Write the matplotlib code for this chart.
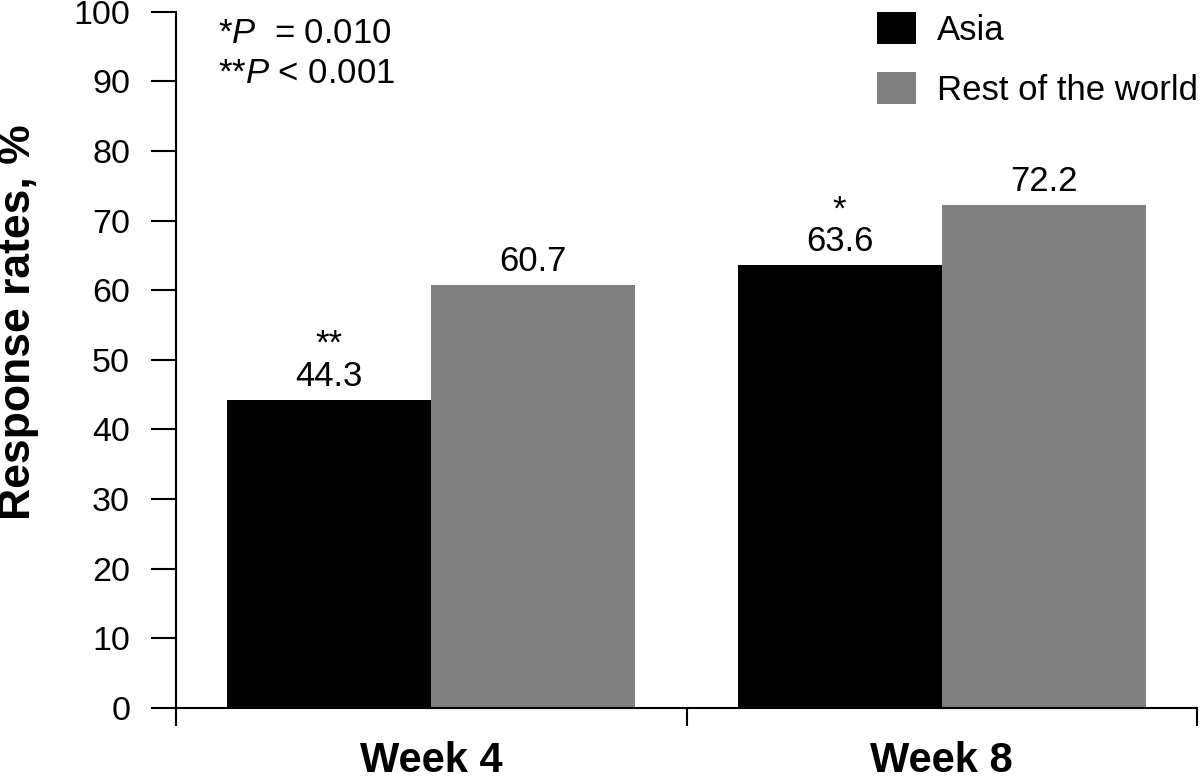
import matplotlib.pyplot as plt
import numpy as np

plt.rcParams['font.family'] = ['Liberation Sans', 'DejaVu Sans']
plt.rcParams['mathtext.fontset'] = 'custom'
plt.rcParams['mathtext.rm'] = 'Liberation Sans'
plt.rcParams['mathtext.it'] = 'Liberation Sans:italic'

# Data
weeks = ['Week 4', 'Week 8']
asia = [44.3, 63.6]
rest_of_world = [60.7, 72.2]
asia_marks = ['**', '*']
p_notes = [r'*$P$  = 0.010', r'**$P$ < 0.001']

fig = plt.figure(figsize=(12, 7.79), dpi=100)
ax = fig.add_axes([176 / 1200, 1 - 708 / 779, 1021 / 1200, 696.3 / 779])

x = np.arange(len(weeks))
width = 0.4
b1 = ax.bar(x - width / 2, asia, width, color='black', label='Asia')
b2 = ax.bar(x + width / 2, rest_of_world, width, color='#808080', label='Rest of the world')

# value labels
for rect, val, mark in zip(b1, asia, asia_marks):
    cx = rect.get_x() + rect.get_width() / 2
    ax.annotate(f'{val:.1f}', (cx, val), xytext=(0, 10), textcoords='offset points',
                ha='center', va='baseline', fontsize=25)
    ax.annotate(mark, (cx, val), xytext=(0, 33), textcoords='offset points',
                ha='center', va='baseline', fontsize=25)
for rect, val in zip(b2, rest_of_world):
    cx = rect.get_x() + rect.get_width() / 2
    ax.annotate(f'{val:.1f}', (cx, val), xytext=(0, 10), textcoords='offset points',
                ha='center', va='baseline', fontsize=25)

ax.set_xlim(-0.5, 1.5)
ax.set_ylim(0, 100)
ax.set_yticks(range(0, 101, 10))
ax.set_xticks(x)
ax.set_xticklabels(weeks, fontsize=30, fontweight='bold')
ax.set_xticks([-0.5, 0.5, 1.5], minor=True)
ax.tick_params(axis='x', which='major', length=0, pad=24)
ax.tick_params(axis='x', which='minor', length=13, width=1.5, direction='out')
ax.tick_params(axis='y', length=18, width=1.5, pad=15, labelsize=24.5)

for s in ['top', 'right']:
    ax.spines[s].set_visible(False)
for s in ['left', 'bottom']:
    ax.spines[s].set_linewidth(1.5)

fig.text(19 / 1200, 1 - 322.5 / 779, 'Response rates, %', rotation=90,
         ha='center', va='center', fontsize=32, fontweight='bold')

ax.text(0.0411, 0.9546, p_notes[0], transform=ax.transAxes, fontsize=25, va='baseline')
ax.text(0.0411, 0.897, p_notes[1], transform=ax.transAxes, fontsize=25, va='baseline')

ax.legend(loc='upper left', bbox_to_anchor=(877 / 1200, 1 - 11.7 / 779),
          bbox_transform=fig.transFigure, frameon=False, fontsize=25,
          handlelength=1.12, handleheight=1.065, handletextpad=0.6,
          labelspacing=0.72, borderpad=0, borderaxespad=0)

fig.savefig('out.png', dpi=100)
